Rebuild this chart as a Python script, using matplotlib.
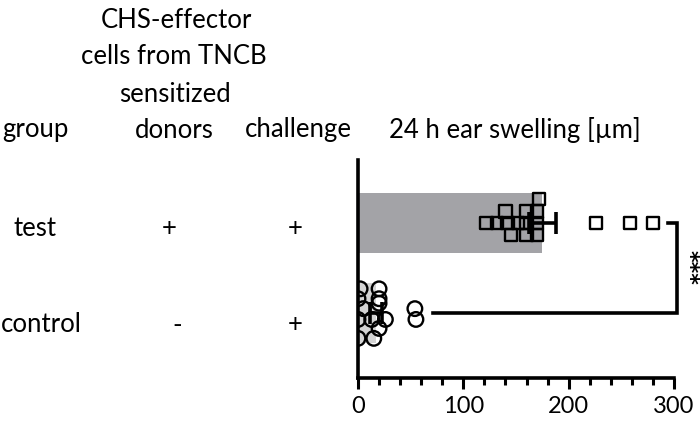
import numpy as np
import matplotlib
matplotlib.use("Agg")
import matplotlib.pyplot as plt
from matplotlib.ticker import MultipleLocator

plt.rcParams['font.family'] = ['Lato', 'DejaVu Sans']

# swelling values (um) and vertical jitter of each point
test_vals = [172, 140, 160, 170, 122, 132, 142, 152, 160, 170, 145, 160, 170,
             226, 258, 280]
test_jit = [0.27, 0.13, 0.13, 0.13, 0.0, 0.0, 0.0, 0.0, 0.0, 0.0, -0.13, -0.13, -0.13,
            0.0, 0.0, 0.0]
ctrl_vals = [2, 20, 0, 20, 5, 20, 0, 13, 26, 20, 0, 15, 54, 55]
ctrl_jit = [0.27, 0.27, 0.16, 0.16, 0.05, 0.11, -0.07, -0.07, -0.07, -0.17, -0.28, -0.28,
            0.05, -0.07]
means = [17, 175]      # control, test
sems = [6, 13]

fig = plt.figure(figsize=(7, 4.26), dpi=100)
ax = fig.add_axes([358/700, 48/426, 316/700, 218/426])

ax.barh([1], [means[1]], height=0.66, color='#a3a3a7', zorder=1)
ax.barh([0], [means[0]], height=0.66, color='#d4d4d4', zorder=1)

ax.scatter(test_vals, 1 + np.array(test_jit), marker='s', s=80, facecolors='none',
           edgecolors='black', linewidths=1.7, zorder=3)
ax.scatter(ctrl_vals, 0 + np.array(ctrl_jit), marker='o', s=110, facecolors='none',
           edgecolors='black', linewidths=1.7, zorder=3)

ax.errorbar(means, [0, 1], xerr=sems, fmt='none', ecolor='black', elinewidth=2.6,
            capsize=8, capthick=2.6, zorder=4)

# significance bracket
ax.plot([294, 303, 303, 71], [1, 1, 0, 0], color='black', lw=2.6, clip_on=False,
        solid_joinstyle='miter')
fig.text(699/700, 1 - 267/426, '***', rotation=-90, ha='right', va='center',
         fontsize=16, fontweight='bold', family=['DejaVu Sans'])

ax.set_xlim(0, 300)
ax.set_ylim(-0.72, 1.7)
ax.xaxis.set_major_locator(MultipleLocator(100))
ax.xaxis.set_minor_locator(MultipleLocator(20))
ax.tick_params(axis='x', which='major', length=8, width=2.2, labelsize=17, pad=5)
ax.tick_params(axis='x', which='minor', length=5, width=2.2)
ax.set_yticks([])
for s in ['top', 'right']:
    ax.spines[s].set_visible(False)
for s in ['left', 'bottom']:
    ax.spines[s].set_linewidth(2.6)

def t(x, y, s, ha='center'):
    fig.text(x/700, 1 - y/426, s, ha=ha, va='center', fontsize=18.5)

t(176, 20, 'CHS-effector')
t(174, 57, 'cells from TNCB')
t(175, 94, 'sensitized')
t(174, 130, 'donors')
t(2, 130, 'group', ha='left')
t(298, 130, 'challenge')
t(515, 130, '24 h ear swelling [µm]')
t(35, 229, 'test')
t(1, 325, 'control', ha='left')
t(169, 229, '+')
t(177, 325, '-')
t(295, 229, '+')
t(295, 325, '+')

fig.savefig('out.png', dpi=100)
